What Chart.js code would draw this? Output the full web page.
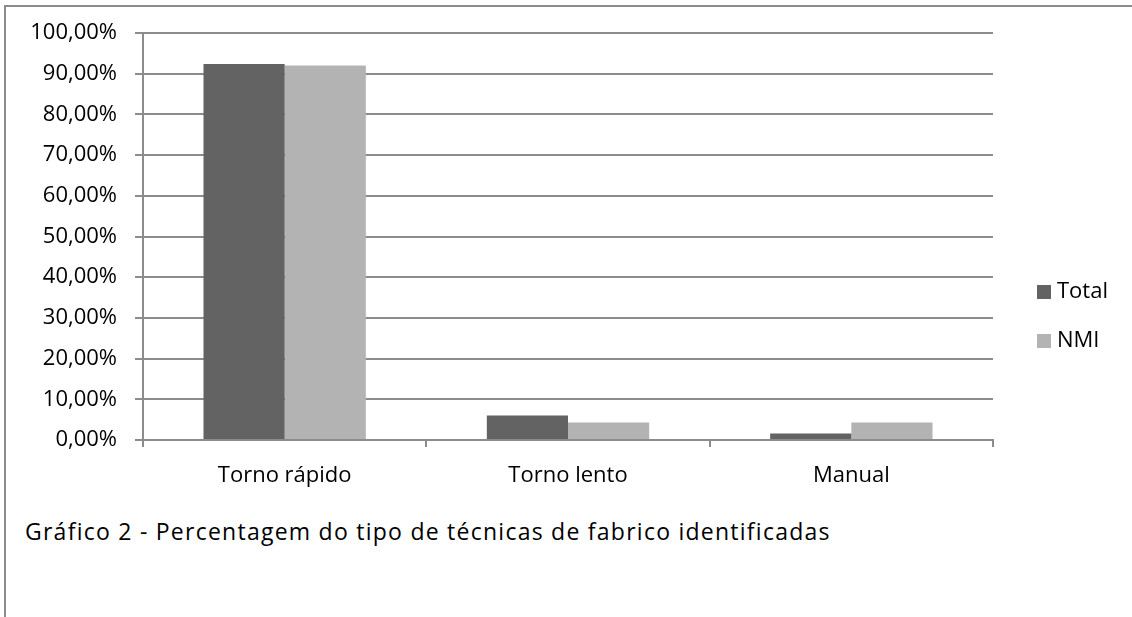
<!DOCTYPE html>
<html>
<head>
<meta charset="utf-8">
<script src="https://cdn.jsdelivr.net/npm/chart.js@4"></script>
<style>
  body { margin: 0; background: #fff; }
  #page { position: relative; width: 1132px; height: 617px; overflow: hidden; font-family: "Open Sans", sans-serif; }
  #frame { position: absolute; left: 4px; top: 5px; width: 1200px; height: 700px; border-left: 2px solid #8c8c8c; border-top: 2px solid #8c8c8c; }
  #wrap { position: absolute; left: 0; top: 0; width: 1132px; height: 500px; }
  #legend { position: absolute; left: 1037px; top: 277px; font-size: 22px; color: #000; }
  #legend div { height: 49px; line-height: 24px; white-space: nowrap; }
  #legend span { display: inline-block; width: 14px; height: 14px; margin-right: 6px; vertical-align: -1px; }
  #caption { position: absolute; left: 25px; top: 516px; font-size: 23px; line-height: 30px; letter-spacing: 1.25px; color: #000; white-space: nowrap; }
</style>
</head>
<body>
<div id="page">
  <div id="frame"></div>
  <div id="wrap"><canvas id="chart"></canvas></div>
  <div id="legend"></div>
  <div id="caption">Gráfico 2 - Percentagem do tipo de técnicas de fabrico identificadas</div>
</div>
<script>
const categories = ['Torno rápido', 'Torno lento', 'Manual'];
const totalValues = [92.4, 6.0, 1.6];
const nmiValues = [92.0, 4.3, 4.3];
const seriesNames = ['Total', 'NMI'];
const seriesColors = ['#636363', '#b3b3b3'];
const yMax = 100;
const yStep = 10;

Chart.defaults.font.family = '"Open Sans", sans-serif';
Chart.defaults.font.size = 22;
Chart.defaults.color = '#000';

const gridColor = '#8c8c8c';

const chart = new Chart('chart', {
  type: 'bar',
  data: {
    labels: categories,
    datasets: [
      { label: seriesNames[0], data: totalValues, backgroundColor: seriesColors[0] },
      { label: seriesNames[1], data: nmiValues, backgroundColor: seriesColors[1] }
    ]
  },
  options: {
    responsive: true,
    maintainAspectRatio: false,
    animation: false,
    datasets: { bar: { categoryPercentage: 0.573, barPercentage: 1.0 } },
    layout: { padding: { left: 0, top: 33, right: 139, bottom: 0 } },
    plugins: { legend: { display: false }, tooltip: { enabled: false } },
    scales: {
      x: {
        grid: { drawOnChartArea: false, drawTicks: true, tickLength: 7, color: gridColor, lineWidth: 2 },
        border: { display: true, color: gridColor, width: 2 },
        ticks: { padding: 16 },
        afterFit: (s) => { s.height = 60; }
      },
      y: {
        min: 0,
        max: yMax,
        grid: { color: gridColor, lineWidth: 2, tickLength: 8 },
        border: { display: true, color: gridColor, width: 2 },
        ticks: {
          stepSize: yStep,
          padding: 18,
          callback: (v) => v.toFixed(2).replace('.', ',') + '%'
        },
        afterFit: (s) => { s.width = 143; }
      }
    }
  }
});

const legendEl = document.getElementById('legend');
chart.data.datasets.forEach((ds) => {
  const row = document.createElement('div');
  row.innerHTML = '<span style="background:' + ds.backgroundColor + '"></span>' + ds.label;
  legendEl.appendChild(row);
});
</script>
</body>
</html>
